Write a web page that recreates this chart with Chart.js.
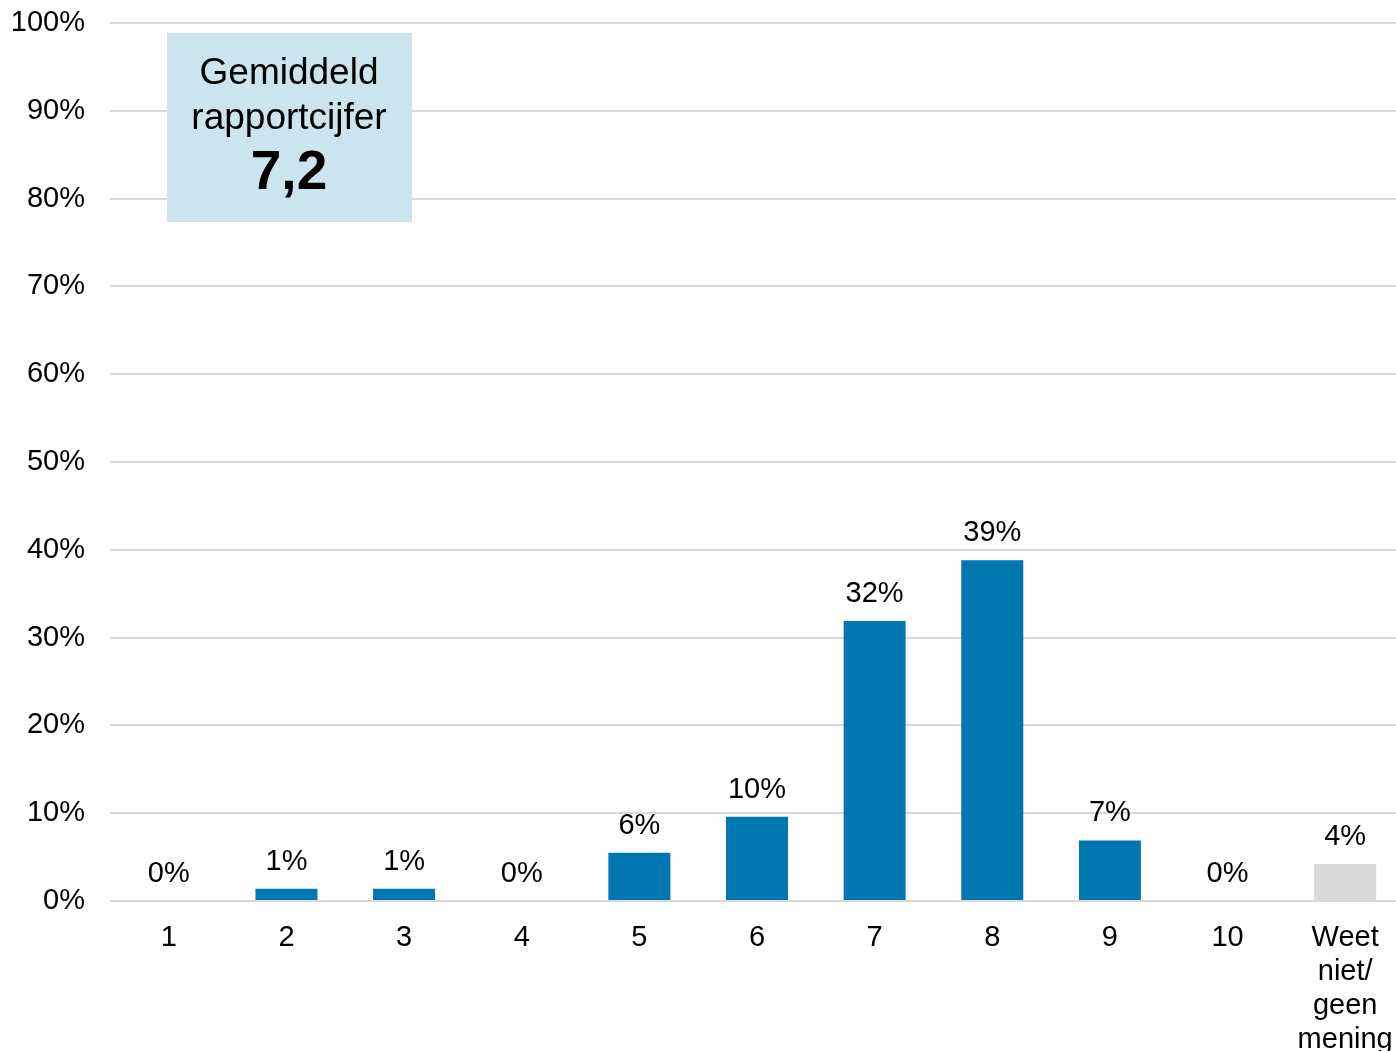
<!DOCTYPE html>
<html>
<head>
<meta charset="utf-8">
<script src="https://cdn.jsdelivr.net/npm/chart.js@4/dist/chart.umd.min.js"></script>
<style>
  html, body { margin: 0; padding: 0; background: #ffffff; overflow: hidden; }
  #wrap { width: 1396px; height: 1051px; position: relative; overflow: hidden; }
  #c { display: block; }
</style>
</head>
<body>
<div id="wrap"><canvas id="c" width="1404" height="1051"></canvas></div>
<script>
const categories = ['1', '2', '3', '4', '5', '6', '7', '8', '9', '10', ['Weet', 'niet/', 'geen', 'mening']];
const values = [0, 1.4, 1.4, 0, 5.5, 9.6, 31.9, 38.8, 6.9, 0, 4.2];
const barColors = ['#0077B0', '#0077B0', '#0077B0', '#0077B0', '#0077B0', '#0077B0', '#0077B0', '#0077B0', '#0077B0', '#0077B0', '#D9D9D9'];
const yTicks = [0, 10, 20, 30, 40, 50, 60, 70, 80, 90, 100];
const boxTitle = ['Gemiddeld', 'rapportcijfer'];
const boxValue = '7,2';

const FONT = "'Liberation Sans', Arial, sans-serif";

const valueLabels = {
  id: 'valueLabels',
  afterDatasetsDraw(chart) {
    const ctx = chart.ctx;
    const meta = chart.getDatasetMeta(0);
    ctx.save();
    ctx.font = '29px ' + FONT;
    ctx.fillStyle = '#000000';
    ctx.textAlign = 'center';
    ctx.textBaseline = 'middle';
    meta.data.forEach((bar, i) => {
      ctx.fillText(Math.round(values[i]) + '%', bar.x, bar.y - 27);
    });
    ctx.restore();
  }
};

const infoBox = {
  id: 'infoBox',
  afterDraw(chart) {
    const ctx = chart.ctx;
    ctx.save();
    ctx.fillStyle = '#CCE4F0';
    ctx.fillRect(167, 33, 245, 189);
    ctx.fillStyle = '#000000';
    ctx.textAlign = 'center';
    ctx.textBaseline = 'middle';
    ctx.font = '37px ' + FONT;
    ctx.fillText(boxTitle[0], 289, 74);
    ctx.fillText(boxTitle[1], 289, 119);
    ctx.font = 'bold 55px ' + FONT;
    ctx.fillText(boxValue, 289, 174);
    ctx.restore();
  }
};

new Chart(document.getElementById('c'), {
  type: 'bar',
  data: {
    labels: categories,
    datasets: [{
      data: values,
      backgroundColor: barColors,
      borderWidth: 0,
      categoryPercentage: 1.0,
      barPercentage: 0.527
    }]
  },
  options: {
    responsive: false,
    animation: false,
    devicePixelRatio: 1,
    layout: { padding: { top: 23, right: 0, bottom: 0, left: 0 } },
    plugins: {
      legend: { display: false },
      tooltip: { enabled: false }
    },
    scales: {
      x: {
        grid: { display: false, drawTicks: false },
        border: { display: false },
        ticks: {
          color: '#000000',
          font: { family: FONT, size: 29, lineHeight: 1.17 },
          padding: 20,
          maxRotation: 0,
          autoSkip: false
        },
        afterFit(scale) { scale.height = 150; scale.paddingLeft = 0; scale.paddingRight = 0; }
      },
      y: {
        min: 0,
        max: 100,
        afterBuildTicks(scale) { scale.ticks = yTicks.map(v => ({ value: v })); },
        grid: { color: '#D9D9D9', lineWidth: 2, drawTicks: false },
        border: { display: false },
        ticks: {
          color: '#000000',
          font: { family: FONT, size: 29 },
          padding: 25,
          callback: (v) => v + '%'
        },
        afterFit(scale) { scale.width = 110; scale.paddingTop = 0; scale.paddingBottom = 0; }
      }
    }
  },
  plugins: [valueLabels, infoBox]
});
</script>
</body>
</html>
